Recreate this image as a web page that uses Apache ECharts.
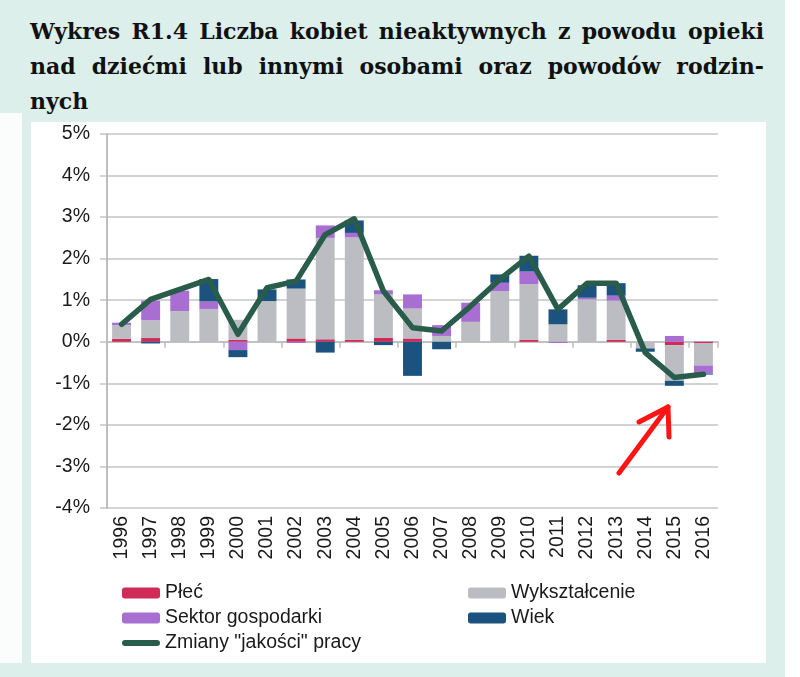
<!DOCTYPE html>
<html>
<head>
<meta charset="utf-8">
<script src="https://cdn.jsdelivr.net/npm/echarts@6/dist/echarts.min.js"></script>
<style>
body{margin:0;width:800px;height:677px;background:#dcefea;position:relative;overflow:hidden}
#title{position:absolute;left:30px;top:14px;width:734px;font:bold 22px/35px "DejaVu Serif",serif;color:#111}
#title div{text-align:justify;text-align-last:justify}
#title div.last{text-align-last:left}
#strip{position:absolute;left:0;top:113px;width:22px;height:550px;background:#fbfdfc}
#rstrip{position:absolute;left:785px;top:0;width:15px;height:677px;background:#fff}
#main{position:absolute;left:31px;top:122px;width:735px;height:541px;background:#fff}
</style>
</head>
<body>
<div id="title">
  <div>Wykres R1.4 Liczba kobiet nieaktywnych z powodu opieki</div>
  <div>nad dziećmi lub innymi osobami oraz powodów rodzin-</div>
  <div class="last">nych</div>
</div>
<div id="strip"></div>
<div id="rstrip"></div>
<div id="main"></div>
<script type="text/javascript">
    // dane (w %)
    var years = ['1996','1997','1998','1999','2000','2001','2002','2003','2004','2005','2006',
                 '2007','2008','2009','2010','2011','2012','2013','2014','2015','2016'];
    var plec = [0.07,0.09,0,0,0.05,0,0.08,0.06,0.05,0.1,0.08,0,0,0,0.05,0,0,0.05,0,-0.08,-0.03];
    var wyksztalcenie = [0.33,0.43,0.74,0.79,0.48,0.98,1.2,2.44,2.46,1.04,0.72,0.14,0.48,1.22,1.34,0.42,1.02,0.94,-0.16,-0.86,-0.54];
    var sektor = [0.06,0.47,0.49,0.18,-0.2,0,-0.03,0.3,0.11,0.1,0.34,0.26,0.46,0.2,0.3,-0.03,0.04,0.12,0,0.14,-0.2];
    var wiek = [0,-0.04,0,0.54,-0.17,0.28,0.22,-0.26,0.3,-0.08,-0.82,-0.18,0,0.2,0.38,0.36,0.3,0.3,-0.08,-0.12,-0.02];
    var jakosc = [0.42,1.02,1.26,1.5,0.18,1.3,1.46,2.58,2.96,1.22,0.34,0.26,0.86,1.5,2.06,0.78,1.41,1.41,-0.26,-0.86,-0.78];
    var yTicks = [-4,-3,-2,-1,0,1,2,3,4,5];

    var myChart = echarts.init(document.getElementById('main'));

    var txt = {color:'#1a1a1a', fontFamily:'"Liberation Sans", Arial, sans-serif', fontSize:19.5};
    // ikona linii: zaokrąglony pasek, z pustym marginesem w pionie
    var lineIcon = 'path://M0,0 M38,11 M3,2.5 L35,2.5 A3,3 0 0 1 35,8.5 L3,8.5 A3,3 0 0 1 3,2.5 Z';

    var option = {
        animation: false,
        textStyle: {fontFamily:'"Liberation Sans", Arial, sans-serif'},
        grid: {left:76, right:48, top:12, bottom:155},
        legend: [
            {
                data:['Płeć','Sektor gospodarki',{name:'Zmiany "jakości" pracy', icon:lineIcon, itemStyle:{color:'#2a5c4c'}}],
                orient:'vertical', left:86, top:456, itemWidth:38, itemHeight:11, itemGap:5,
                textStyle: txt
            },
            {
                data:['Wykształcenie','Wiek'],
                orient:'vertical', left:432, top:456, itemWidth:38, itemHeight:11, itemGap:5,
                textStyle: txt
            }
        ],
        xAxis: [
            {
                type:'category',
                data: years,
                position:'bottom',
                axisLine:{show:false, onZero:false},
                axisTick:{show:false},
                axisLabel:{rotate:90, margin:8, fontSize:19.5, color:'#1a1a1a'}
            },
            {
                type:'category',
                data: years,
                position:'bottom',
                axisLine:{show:true, onZero:true, lineStyle:{color:'#bdbdbd', width:1.5}},
                axisTick:{show:true, length:6, lineStyle:{color:'#bdbdbd', width:1.5}},
                axisLabel:{show:false}
            }
        ],
        yAxis: {
            type:'value',
            min: yTicks[0],
            max: yTicks[yTicks.length-1],
            interval: 1,
            axisLine:{show:true, lineStyle:{color:'#a8a8a8', width:1.5}},
            axisTick:{show:true, length:7, lineStyle:{color:'#c4c4c4', width:1.5}},
            splitLine:{lineStyle:{color:'#c4c4c4', width:1.5}},
            axisLabel:{formatter:'{value}%', fontSize:19.5, color:'#1a1a1a', margin:17}
        },
        series: [
            {name:'Płeć', type:'bar', stack:'razem', barWidth:'65%', itemStyle:{color:'#d02a58'}, data: plec},
            {name:'Wykształcenie', type:'bar', stack:'razem', itemStyle:{color:'#bbbdc2'}, data: wyksztalcenie},
            {name:'Sektor gospodarki', type:'bar', stack:'razem', itemStyle:{color:'#a86ed2'}, data: sektor},
            {name:'Wiek', type:'bar', stack:'razem', itemStyle:{color:'#1b527e'}, data: wiek},
            {
                name:'Zmiany "jakości" pracy', type:'line', symbol:'none', z:5,
                lineStyle:{color:'#2a5c4c', width:5.5, join:'round', cap:'round'},
                itemStyle:{color:'#2a5c4c'},
                data: jakosc
            }
        ],
        // czerwona strzałka dorysowana na wykresie
        graphic: [
            {type:'polyline', shape:{points:[[588,351],[637,285]]}, style:{stroke:'#ff1414', lineWidth:5, lineCap:'round', fill:null}, z:10},
            {type:'polyline', shape:{points:[[608,300],[637,285],[638,315]]}, style:{stroke:'#ff1414', lineWidth:5, lineCap:'round', lineJoin:'round', fill:null}, z:10}
        ]
    };

    myChart.setOption(option);
</script>
</body>
</html>
